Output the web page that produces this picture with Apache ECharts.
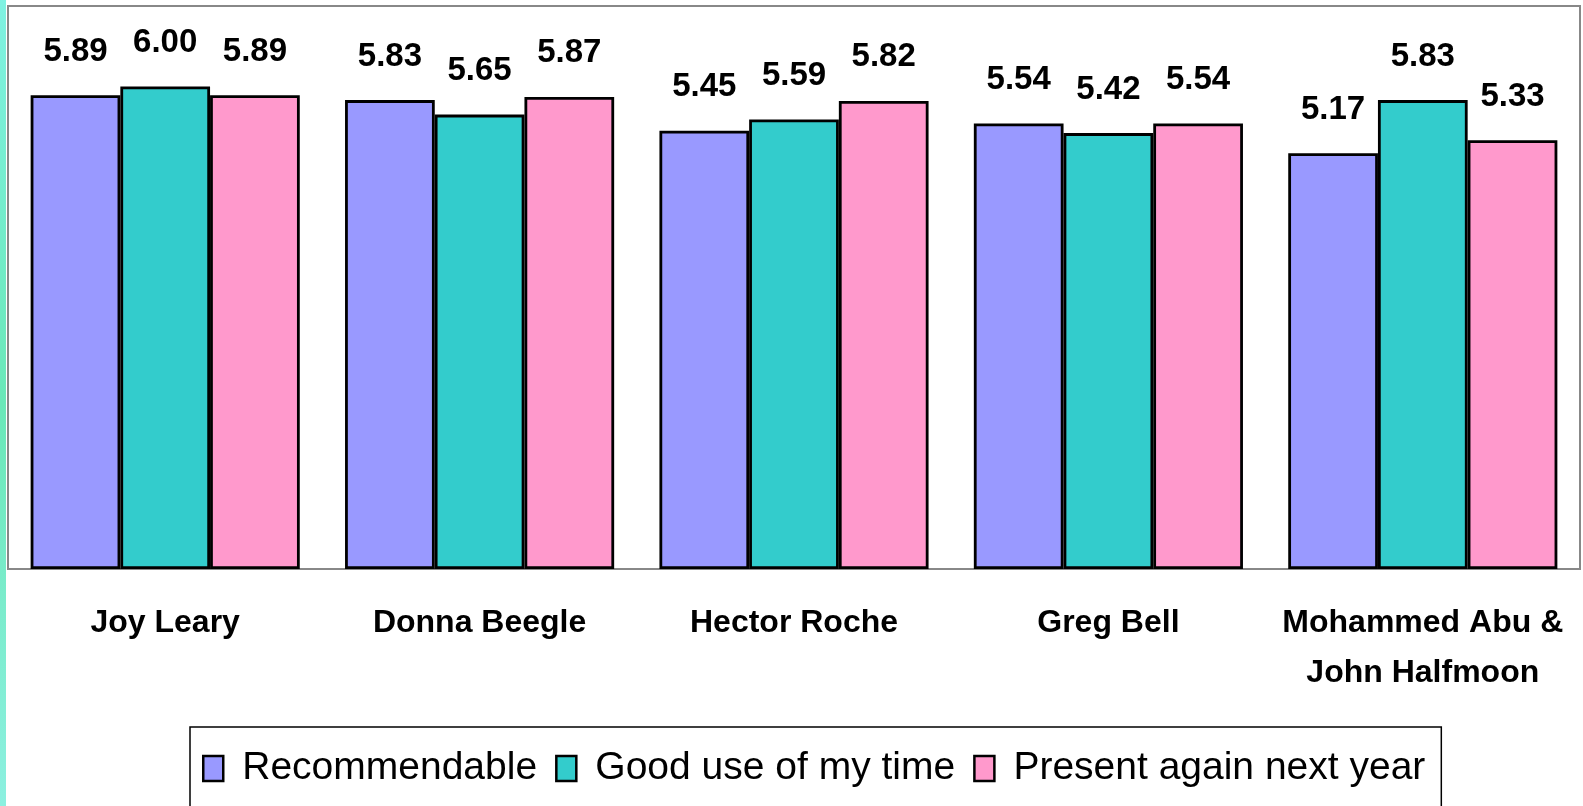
<!DOCTYPE html>
<html>
<head>
<meta charset="utf-8">
<script src="https://cdn.jsdelivr.net/npm/echarts@6/dist/echarts.min.js"></script>
<style>
html,body{margin:0;padding:0;background:#fff;}
#chart{width:1583px;height:806px;}
</style>
</head>
<body>
<div id="chart"></div>
<script>
var categories = ["Joy Leary", "Donna Beegle", "Hector Roche", "Greg Bell", "Mohammed Abu & John Halfmoon"];
var seriesNames = ["Recommendable", "Good use of my time", "Present again next year"];
var recommendable = [5.89, 5.83, 5.45, 5.54, 5.17];
var goodUse = [6.00, 5.65, 5.59, 5.42, 5.83];
var presentAgain = [5.89, 5.87, 5.82, 5.54, 5.33];
var colors = ["#9999ff", "#33cccc", "#ff99cc"];

var chart = echarts.init(document.getElementById('chart'));
var font = '"Liberation Sans", Arial, sans-serif';
function mk(name, data, color) {
  return {
    name: name, type: 'bar', data: data,
    barGap: '0%', barCategoryGap: '14.4%',
    itemStyle: { color: color, borderColor: '#000', borderWidth: 2.8 },
    label: {
      show: true, position: 'top', distance: 27,
      fontFamily: font, fontWeight: 'bold', fontSize: 33, color: '#000',
      formatter: function (p) { return p.value.toFixed(2); }
    }
  };
}
chart.setOption({
  animation: false,
  backgroundColor: '#fff',
  graphic: [{
    type: 'rect', left: 0, top: 0, shape: { width: 6, height: 806 },
    style: { fill: new echarts.graphic.LinearGradient(0, 0, 0, 1, [
      { offset: 0, color: '#7ff2e2' }, { offset: 0.5, color: '#6ae8b8' }, { offset: 1, color: '#8cf0e0' }]) }
  }],
  grid: { left: 8, top: 6, right: 3, bottom: 237, show: true, borderColor: '#888', borderWidth: 2, backgroundColor: '#fff', containLabel: false, outerBoundsMode: 'none' },
  xAxis: {
    type: 'category', data: categories,
    axisLine: { show: false }, axisTick: { show: false },
    axisLabel: {
      interval: 0, margin: 29, fontFamily: font, fontWeight: 'bold', fontSize: 32, color: '#000', lineHeight: 50,
      formatter: function (v) { return v.replace(' & ', ' &\n'); }
    }
  },
  yAxis: { type: 'value', min: 0, max: 7, show: false, splitLine: { show: false } },
  legend: {
    data: seriesNames, left: 190, top: 727,
    padding: [22, 16, 60, 12],
    borderColor: '#000', borderWidth: 1.5,
    itemWidth: 20, itemHeight: 25, itemGap: 18,
    itemStyle: { borderColor: '#000', borderWidth: 2.5 },
    textStyle: { fontFamily: font, fontSize: 39, color: '#000', padding: [0, 0, 0, 14] },
    icon: 'rect'
  },
  series: [mk(seriesNames[0], recommendable, colors[0]), mk(seriesNames[1], goodUse, colors[1]), mk(seriesNames[2], presentAgain, colors[2])]
});
</script>
</body>
</html>
